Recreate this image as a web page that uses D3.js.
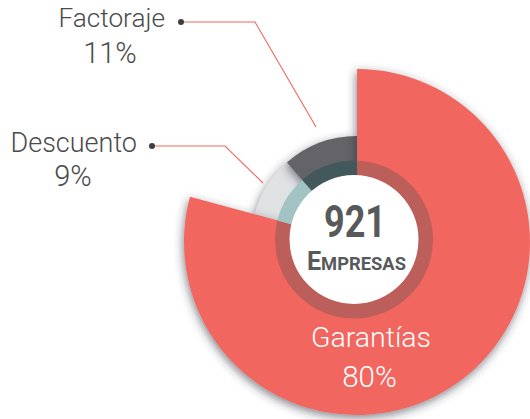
<!DOCTYPE html>
<html>
<head>
<meta charset="utf-8">
<script src="https://cdn.jsdelivr.net/npm/d3@7"></script>
<style>
html,body{margin:0;padding:0;background:#fff;}
svg{display:block;}
text{font-family:Roboto,"Liberation Sans",sans-serif;}
</style>
</head>
<body>
<svg id="chart" width="530" height="419"></svg>
<script>
// ---- data ----
const categories = ["Garantías", "Descuento", "Factoraje"];
const values = [79.2, 9.3, 11.5];          // angular shares as drawn
const pctLabels = ["80%", "9%", "11%"];
const totalLabel = "921";
const totalSub = ["E", "MPRESAS"];

// ---- styles ----
const sliceColors = ["#f1665e", "#dfe1e3", "#636467"];
const ringColors  = ["#bc5e5a", "#a2c3c3", "#43585a"];
const outerR = [173, 106, 106];
const drawOrder = [1, 2, 0];

const svg = d3.select("#chart");
const cx = 357, cy = 242;          // pie centre
const rx = 354, ry = 239.5;        // ring centre

const defs = svg.append("defs");
const f = defs.append("filter").attr("id", "sh")
  .attr("x", "-20%").attr("y", "-20%").attr("width", "140%").attr("height", "140%");
f.append("feDropShadow").attr("dx", -1).attr("dy", 3).attr("stdDeviation", 5)
  .attr("flood-color", "#2d3440").attr("flood-opacity", 0.6);

const data = categories.map((c, i) => ({c, v: values[i], i}));
const pie = d3.pie().sort(null).value(d => d.v).startAngle(0).endAngle(2 * Math.PI);
const arcs = pie(data);

const arc = d3.arc().innerRadius(0);

const gPie = svg.append("g");
drawOrder.forEach(i => {
  const a = arcs[i];
  gPie.append("path")
    .attr("transform", `translate(${cx},${cy})`)
    .attr("d", arc.outerRadius(outerR[i])(a))
    .attr("fill", sliceColors[i])
    .attr("filter", "url(#sh)");
});

// clip wedges for ring
const wedge = d3.arc().innerRadius(0).outerRadius(220);
arcs.forEach((a, i) => {
  defs.append("clipPath").attr("id", "cw" + i)
    .append("path")
    .attr("transform", `translate(${cx},${cy})`)
    .attr("d", wedge(a));
});
const ringArc = d3.arc().innerRadius(64).outerRadius(79).startAngle(0).endAngle(2 * Math.PI);
arcs.forEach((a, i) => {
  svg.append("g").attr("clip-path", `url(#cw${i})`)
    .append("path")
    .attr("transform", `translate(${rx},${ry})`)
    .attr("d", ringArc())
    .attr("fill", ringColors[i]);
});
svg.append("circle").attr("cx", rx).attr("cy", ry).attr("r", 64.5).attr("fill", "#fff");

// centre text
svg.append("text").attr("x", 355).attr("y", 236.5)
  .attr("text-anchor", "middle")
  .attr("font-size", 44).attr("font-weight", 700).attr("fill", "#58595b")
  .attr("textLength", 62).attr("lengthAdjust", "spacingAndGlyphs")
  .text(totalLabel);
const t2 = svg.append("text").attr("x", 356.5).attr("y", 270)
  .attr("text-anchor", "middle").attr("font-weight", 700).attr("fill", "#58595b")
  .attr("textLength", 99).attr("lengthAdjust", "spacingAndGlyphs");
t2.append("tspan").attr("font-size", 26).text(totalSub[0]);
t2.append("tspan").attr("font-size", 19).text(totalSub[1]);

// leader lines
const lineColor = "#f1665e";
const leaders = [
  {i: 2, pts: [[181, 22], [255, 22], [316, 127]]},
  {i: 1, pts: [[152, 146], [225, 146], [263, 183]]}
];
leaders.forEach(l => {
  svg.append("path").attr("d", d3.line()(l.pts))
    .attr("fill", "none").attr("stroke", lineColor).attr("stroke-width", 1.1);
  svg.append("circle").attr("cx", l.pts[0][0]).attr("cy", l.pts[0][1]).attr("r", 3)
    .attr("fill", "#3d3e40");
});

// labels
const labelCol = "#4a4a4c";
const labels = [
  {i: 2, x: 165, y: 27, anchor: "end", px: 110, py: 62.5, col: labelCol, fs: 26.2, pfs: 29},
  {i: 1, x: 137, y: 152, anchor: "end", px: 73, py: 186, col: labelCol, fs: 27, pfs: 29},
  {i: 0, x: 371, y: 346.5, anchor: "middle", px: 369.5, py: 387, col: "#ffffff", fs: 28.5, pfs: 29.5}
];
labels.forEach(l => {
  svg.append("text").attr("x", l.x).attr("y", l.y).attr("text-anchor", l.anchor)
    .attr("font-size", l.fs).attr("font-weight", 300).attr("fill", l.col)
    .text(categories[l.i]);
  svg.append("text").attr("x", l.px).attr("y", l.py).attr("text-anchor", "middle")
    .attr("font-size", l.pfs).attr("font-weight", 300).attr("fill", l.col)
    .text(pctLabels[l.i]);
});
</script>
</body>
</html>
